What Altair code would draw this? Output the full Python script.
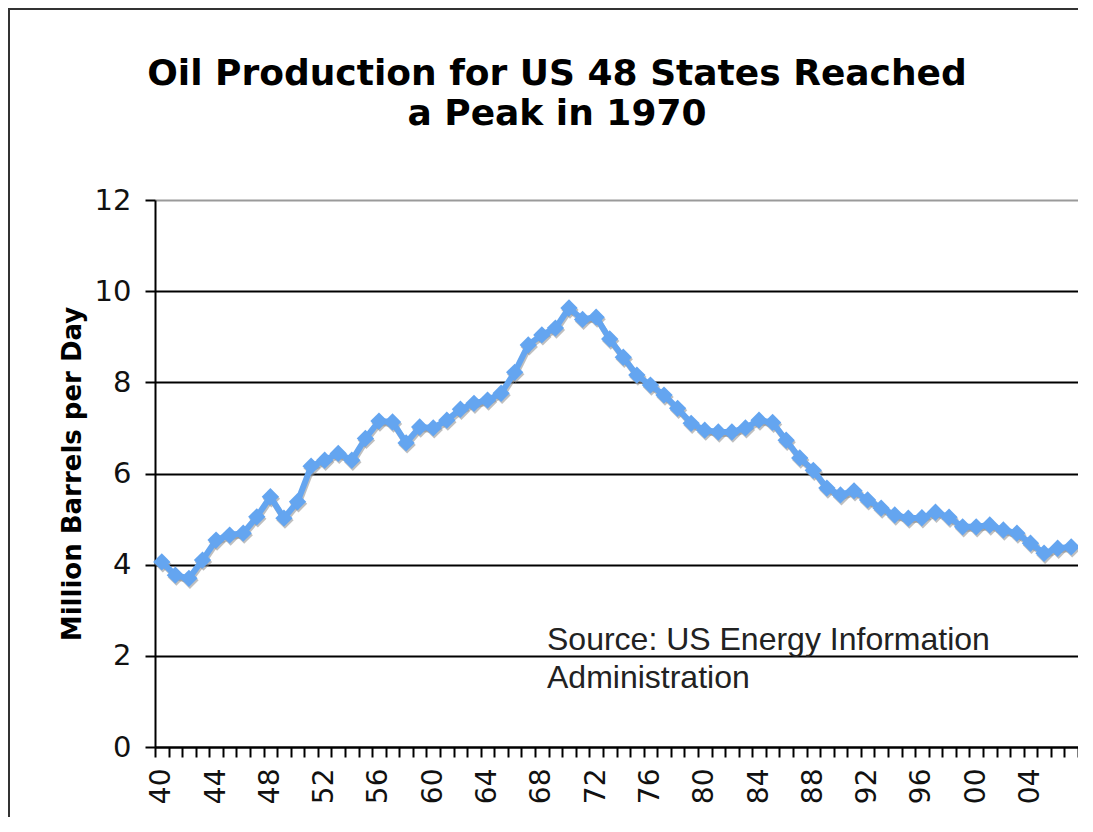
import altair as alt
import pandas as pd

years = list(range(1940, 2008))
production = [
    4.06, 3.77, 3.70, 4.10, 4.54, 4.65, 4.69, 5.05, 5.49, 5.02,
    5.38, 6.16, 6.29, 6.44, 6.29, 6.77, 7.15, 7.13, 6.67, 7.02,
    7.00, 7.17, 7.41, 7.54, 7.61, 7.76, 8.22, 8.82, 9.04, 9.19,
    9.63, 9.38, 9.43, 8.95, 8.55, 8.16, 7.94, 7.72, 7.43, 7.10,
    6.95, 6.91, 6.91, 7.00, 7.17, 7.12, 6.73, 6.34, 6.07, 5.68,
    5.53, 5.62, 5.42, 5.24, 5.09, 5.02, 5.03, 5.15, 5.04, 4.83,
    4.83, 4.87, 4.76, 4.69, 4.47, 4.25, 4.36, 4.39,
]
title_lines = ["Oil Production for US 48 States Reached", "a Peak in 1970"]
y_title = "Million Barrels per Day"
source_lines = ["Source: US Energy Information", "Administration"]
y_ticks = [0, 2, 4, 6, 8, 10, 12]

df = pd.DataFrame({"year": years, "value": production})

W, H = 923, 547
PAD_L, PAD_T, PAD_R, PAD_B = 147, 192, 0, 70
BLUE = "#64a5f0"

x_enc = alt.X(
    "year:O",
    scale=alt.Scale(type="band", paddingInner=0, paddingOuter=0),
    axis=alt.Axis(
        title=None,
        labelExpr="datum.value % 4 == 0 ? substring(toString(datum.value), 2, 4) : ''",
        labelAngle=270,
        labelFont="DejaVu Sans",
        labelFontSize=28,
        labelColor="#111",
        labelPadding=11,
        tickBand="extent",
        tickSize=10,
        tickWidth=2,
        tickColor="black",
        domainColor="black",
        domainWidth=2,
        grid=False,
        labelOverlap=False,
    ),
)
y_enc = alt.Y(
    "value:Q",
    scale=alt.Scale(domain=[0, 12], nice=False),
    axis=alt.Axis(
        title=y_title,
        titleFont="DejaVu Sans",
        titleFontSize=26,
        titleFontWeight="bold",
        titleColor="black",
        titlePadding=9,
        values=y_ticks,
        labelFont="DejaVu Sans",
        labelFontSize=29,
        labelColor="#111",
        labelPadding=14,
        tickSize=10,
        tickWidth=2,
        tickColor="black",
        domainColor="black",
        domainWidth=2,
        grid=True,
        gridColor={"condition": {"test": "datum.value == 12", "value": "#9a9a9a"}, "value": "black"},
        gridWidth=2,
    ),
)

base = alt.Chart(df)

frame = alt.Chart(df).mark_rect(fill=None, stroke="#333", strokeWidth=2).encode(
    x=alt.value(-PAD_L + 1), x2=alt.value(W + 60), y=alt.value(-PAD_T + 1), y2=alt.value(H + 200)
)

shadow_line = base.mark_line(color="#8a8a8a", strokeWidth=6, opacity=0.55, xOffset=1, yOffset=2).encode(x=x_enc, y=y_enc)
shadow_pts = base.mark_point(shape="diamond", filled=True, size=300, color="#8a8a8a", opacity=0.55, xOffset=1, yOffset=2).encode(x=x_enc, y=y_enc)
line = base.mark_line(color=BLUE, strokeWidth=6).encode(x=x_enc, y=y_enc)
pts = base.mark_point(shape="diamond", filled=True, size=300, color=BLUE, opacity=1).encode(x=x_enc, y=y_enc)

src = alt.Chart(pd.DataFrame({"t": [source_lines]})).mark_text(
    font="Liberation Sans", fontSize=32, align="left", baseline="alphabetic", color="#222", lineHeight=38
).encode(text="t:N", x=alt.value(392), y=alt.value(450))

ttl = alt.Chart(pd.DataFrame({"t": [title_lines]})).mark_text(
    font="DejaVu Sans", fontSize=36, fontWeight="bold", align="center", baseline="alphabetic", color="black", lineHeight=40
).encode(text="t:N", x=alt.value(402), y=alt.value(-115))

chart = alt.layer(frame, shadow_line, shadow_pts, line, pts, src, ttl).properties(
    width=W,
    height=H,
    autosize=alt.AutoSizeParams(type="none"),
    padding={"left": PAD_L, "top": PAD_T, "right": PAD_R, "bottom": PAD_B},
).configure_view(stroke="#9a9a9a", strokeWidth=2).configure(background="white")

chart.save("out.html", embed_options={"renderer": "svg", "actions": False})
